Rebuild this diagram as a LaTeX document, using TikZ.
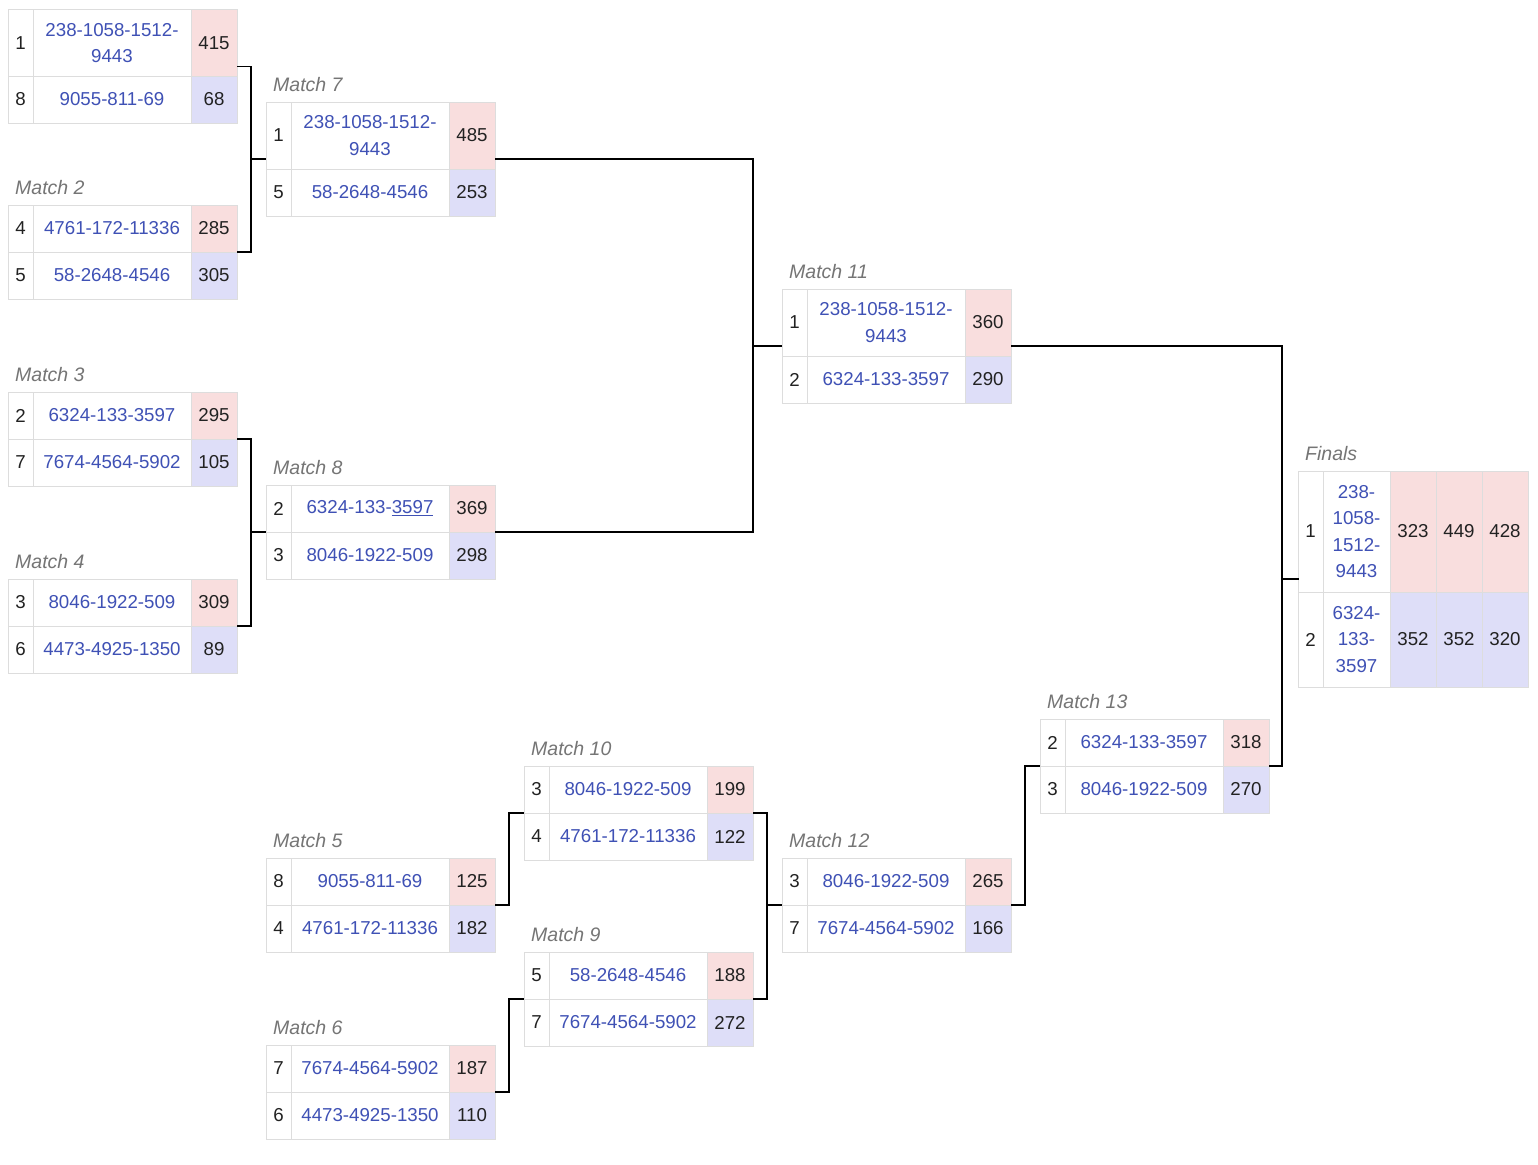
\documentclass[tikz,border=0pt]{standalone}
\usepackage{fontspec}
\setmainfont{Liberation Sans}
\definecolor{pinkc}{RGB}{249,222,222}
\definecolor{bluec}{RGB}{222,222,248}
\definecolor{gridc}{RGB}{221,221,221}
\definecolor{teamc}{RGB}{63,81,181}
\definecolor{labc}{RGB}{117,117,117}
\definecolor{txtc}{RGB}{34,34,34}
\tikzset{
 cellline/.style={draw=gridc, line width=1pt},
 basetxt/.style={inner sep=0pt, font=\fontsize{18.7}{26.5}\selectfont},
 seedtxt/.style={basetxt, text=txtc},
 teamtxt/.style={basetxt, text=teamc, align=center},
 scoretxt/.style={basetxt, text=txtc},
 mlabel/.style={inner sep=0pt, anchor=base west, text=labc, font=\fontsize{19.5}{22}\selectfont\itshape},
 mbox/.style={inner sep=0pt, outer sep=0pt, minimum width=229pt},
 conn/.style={draw=black, line width=1.8pt},
}
\newcommand\bw{229}
% name, x, top, h, fill, seed, team, score
\newcommand\mrow[8]{%
 \fill[#5] ({#2+\bw-46},#3) rectangle ({#2+\bw},{#3+#4});
 \draw[cellline] (#2,#3) rectangle ({#2+\bw},{#3+#4});
 \draw[cellline] ({#2+25},#3) -- ({#2+25},{#3+#4});
 \draw[cellline] ({#2+\bw-46},#3) -- ({#2+\bw-46},{#3+#4});
 \node[seedtxt] (#1s) at ({#2+12.5},{#3+#4/2}) {#6};
 \node[teamtxt] (#1t) at ({#2+25+(\bw-71)/2},{#3+#4/2}) {#7};
 \node[scoretxt] (#1c) at ({#2+\bw-23},{#3+#4/2}) {#8};
}
% name, x, top, h1, h2
\newcommand\mbody[5]{%
 \node[mbox, minimum height={(#4+#5)*1pt}] (#1) at ({#2+\bw/2},{#3+(#4+#5)/2}) {};
}
\newcommand\mlab[4]{% name, x, top, text
 \node[mlabel] (#1l) at ({#2+7},{#3-11}) {#4};
}
\begin{document}
\begin{tikzpicture}[x=1pt,y=-1pt]
\useasboundingbox[fill=white] (0,0) rectangle (1538,1164);

% Match 1
\mbody{m1}{8}{10}{66}{47}
\mrow{m1a}{8}{10}{66}{pinkc}{1}{238-1058-1512-\\9443}{415}
\mrow{m1b}{8}{76}{47}{bluec}{8}{9055-811-69}{68}
% Match 2
\mlab{m2}{8}{205}{Match 2}
\mbody{m2}{8}{205}{47}{47}
\mrow{m2a}{8}{205}{47}{pinkc}{4}{4761-172-11336}{285}
\mrow{m2b}{8}{252}{47}{bluec}{5}{58-2648-4546}{305}
% Match 3
\mlab{m3}{8}{392}{Match 3}
\mbody{m3}{8}{392}{47}{47}
\mrow{m3a}{8}{392}{47}{pinkc}{2}{6324-133-3597}{295}
\mrow{m3b}{8}{439}{47}{bluec}{7}{7674-4564-5902}{105}
% Match 4
\mlab{m4}{8}{579}{Match 4}
\mbody{m4}{8}{579}{47}{47}
\mrow{m4a}{8}{579}{47}{pinkc}{3}{8046-1922-509}{309}
\mrow{m4b}{8}{626}{47}{bluec}{6}{4473-4925-1350}{89}
% Match 5
\mlab{m5}{266}{858}{Match 5}
\mbody{m5}{266}{858}{47}{47}
\mrow{m5a}{266}{858}{47}{pinkc}{8}{9055-811-69}{125}
\mrow{m5b}{266}{905}{47}{bluec}{4}{4761-172-11336}{182}
% Match 6
\mlab{m6}{266}{1045}{Match 6}
\mbody{m6}{266}{1045}{47}{47}
\mrow{m6a}{266}{1045}{47}{pinkc}{7}{7674-4564-5902}{187}
\mrow{m6b}{266}{1092}{47}{bluec}{6}{4473-4925-1350}{110}
% Match 7
\mlab{m7}{266}{102}{Match 7}
\mbody{m7}{266}{102}{67}{47}
\mrow{m7a}{266}{102}{67}{pinkc}{1}{238-1058-1512-\\9443}{485}
\mrow{m7b}{266}{169}{47}{bluec}{5}{58-2648-4546}{253}
% Match 8
\mlab{m8}{266}{485}{Match 8}
\mbody{m8}{266}{485}{47}{47}
\mrow{m8a}{266}{485}{47}{pinkc}{2}{6324-133-\underline{3597}}{369}
\mrow{m8b}{266}{532}{47}{bluec}{3}{8046-1922-509}{298}
% Match 9
\mlab{m9}{524}{952}{Match 9}
\mbody{m9}{524}{952}{47}{47}
\mrow{m9a}{524}{952}{47}{pinkc}{5}{58-2648-4546}{188}
\mrow{m9b}{524}{999}{47}{bluec}{7}{7674-4564-5902}{272}
% Match 10
\mlab{m10}{524}{766}{Match 10}
\mbody{m10}{524}{766}{47}{47}
\mrow{m10a}{524}{766}{47}{pinkc}{3}{8046-1922-509}{199}
\mrow{m10b}{524}{813}{47}{bluec}{4}{4761-172-11336}{122}
% Match 11
\mlab{m11}{782}{289}{Match 11}
\mbody{m11}{782}{289}{67}{47}
\mrow{m11a}{782}{289}{67}{pinkc}{1}{238-1058-1512-\\9443}{360}
\mrow{m11b}{782}{356}{47}{bluec}{2}{6324-133-3597}{290}
% Match 12
\mlab{m12}{782}{858}{Match 12}
\mbody{m12}{782}{858}{47}{47}
\mrow{m12a}{782}{858}{47}{pinkc}{3}{8046-1922-509}{265}
\mrow{m12b}{782}{905}{47}{bluec}{7}{7674-4564-5902}{166}
% Match 13
\mlab{m13}{1040}{719}{Match 13}
\mbody{m13}{1040}{719}{47}{47}
\mrow{m13a}{1040}{719}{47}{pinkc}{2}{6324-133-3597}{318}
\mrow{m13b}{1040}{766}{47}{bluec}{3}{8046-1922-509}{270}

% Finals
\node[mlabel] (finl) at (1305,460) {Finals};
\node[mbox, minimum height=216pt] (fin) at (1413,579) {};
\fill[pinkc] (1390,471) rectangle (1528,592);
\fill[bluec] (1390,592) rectangle (1528,687);
\draw[cellline] (1298,471) rectangle (1528,687);
\draw[cellline] (1298,592) -- (1528,592);
\draw[cellline] (1323,471) -- (1323,687);
\draw[cellline] (1390,471) -- (1390,687);
\draw[cellline] (1436,471) -- (1436,687);
\draw[cellline] (1482,471) -- (1482,687);
\node[seedtxt] (fas) at (1310.5,531.5) {1};
\node[teamtxt] (fat) at (1356.5,531.5) {238-\\1058-\\1512-\\9443};
\node[scoretxt] (fac1) at (1413,531.5) {323};
\node[scoretxt] (fac2) at (1459,531.5) {449};
\node[scoretxt] (fac3) at (1505,531.5) {428};
\node[seedtxt] (fbs) at (1310.5,639.5) {2};
\node[teamtxt] (fbt) at (1356.5,639.5) {6324-\\133-\\3597};
\node[scoretxt] (fbc1) at (1413,639.5) {352};
\node[scoretxt] (fbc2) at (1459,639.5) {352};
\node[scoretxt] (fbc3) at (1505,639.5) {320};

% Connectors
\draw[conn] (m1.east) -- ++(14,0) |- (m7.west);
\draw[conn] (m2.east) -- ++(14,0) |- (m7.west);
\draw[conn] (m3.east) -- ++(14,0) |- (m8.west);
\draw[conn] (m4.east) -- ++(14,0) |- (m8.west);
\draw[conn] (m7.east) -- ++(258,0) |- (m11.west);
\draw[conn] (m8.east) -- ++(258,0) |- (m11.west);
\draw[conn] (m5.east) -- ++(14,0) |- (m10.west);
\draw[conn] (m6.east) -- ++(14,0) |- (m9.west);
\draw[conn] (m10.east) -- ++(14,0) |- (m12.west);
\draw[conn] (m9.east) -- ++(14,0) |- (m12.west);
\draw[conn] (m12.east) -- ++(14,0) |- (m13.west);
\draw[conn] (m11.east) -- ++(271,0) |- (fin.west);
\draw[conn] (m13.east) -- ++(13,0) |- (fin.west);
\end{tikzpicture}
\end{document}
